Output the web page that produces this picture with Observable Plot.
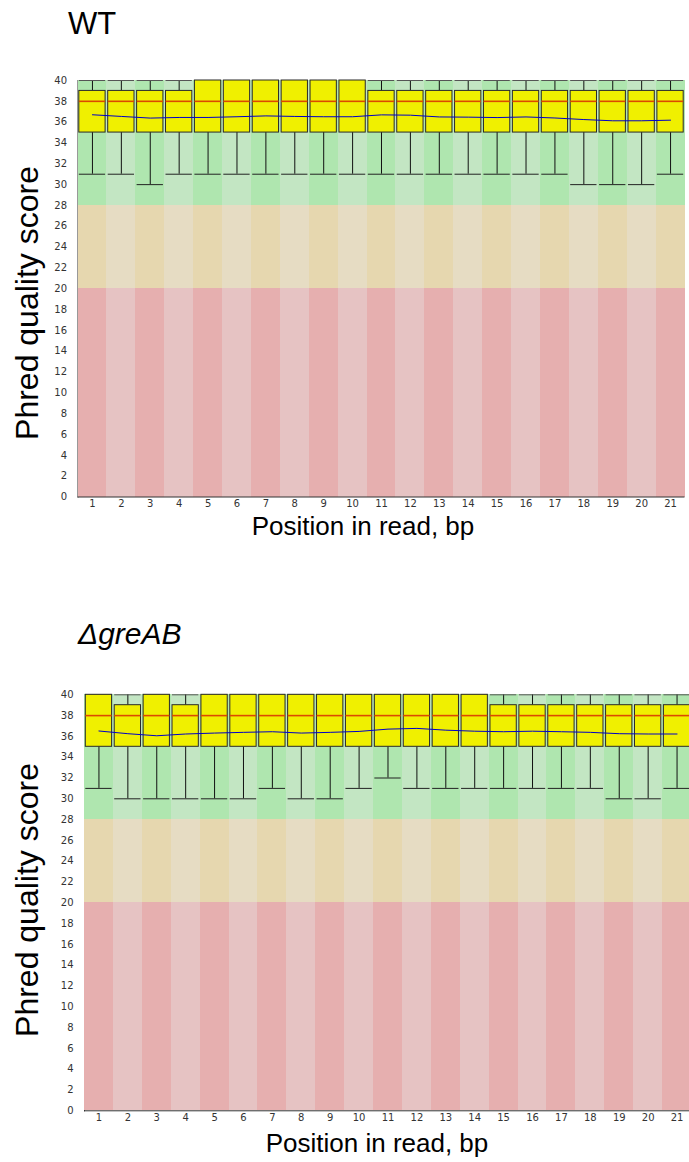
<!DOCTYPE html>
<html><head><meta charset="utf-8">
<script src="https://cdn.jsdelivr.net/npm/d3@7"></script>
<script src="https://cdn.jsdelivr.net/npm/@observablehq/plot@0.6"></script>
<style>
html,body{margin:0;padding:0;background:#fff;overflow:hidden;}
#page{position:relative;width:689px;height:1162px;overflow:hidden;font-family:"Liberation Sans",Arial,Helvetica,sans-serif;color:#000;}
.abs{position:absolute;line-height:1;white-space:nowrap;}
.ylab{font-size:32px;transform:translate(-50%,-50%) rotate(-90deg);}
.xlab{font-size:26px;transform:translateX(-50%);}
.svgwrap{position:absolute;left:0;}
</style></head><body><div id="page"></div>
<script>
// ---- data ----
const positions = [1,2,3,4,5,6,7,8,9,10,11,12,13,14,15,16,17,18,19,20,21];
const yTicks = [0,2,4,6,8,10,12,14,16,18,20,22,24,26,28,30,32,34,36,38,40];

// quality zones (low, high) and colours for odd / even columns
const zoneLow  = [28, 20, 0];
const zoneHigh = [40, 28, 20];
const zoneDark  = ["rgb(175,230,175)", "rgb(230,215,175)", "rgb(230,175,175)"];
const zoneLight = ["rgb(195,230,195)", "rgb(230,220,195)", "rgb(230,195,195)"];

// WT
const wtUpper  = [40,40,40,40,40,40,40,40,40,40,40,40,40,40,40,40,40,40,40,40,40];
const wtQ3     = [39,39,39,39,40,40,40,40,40,40,39,39,39,39,39,39,39,39,39,39,39];
const wtMedian = [38,38,38,38,38,38,38,38,38,38,38,38,38,38,38,38,38,38,38,38,38];
const wtQ1     = [35,35,35,35,35,35,35,35,35,35,35,35,35,35,35,35,35,35,35,35,35];
const wtLower  = [31,31,30,31,31,31,31,31,31,31,31,31,31,31,31,31,31,30,30,30,31];
const wtMean   = [36.71,36.55,36.39,36.45,36.45,36.52,36.6,36.55,36.52,36.52,36.7,36.67,36.5,36.48,36.44,36.5,36.4,36.25,36.13,36.13,36.19];

// ΔgreAB
const agUpper  = [40,40,40,40,40,40,40,40,40,40,40,40,40,40,40,40,40,40,40,40,40];
const agQ3     = [40,39,40,39,40,40,40,40,40,40,40,40,40,40,39,39,39,39,39,39,39];
const agMedian = [38,38,38,38,38,38,38,38,38,38,38,38,38,38,38,38,38,38,38,38,38];
const agQ1     = [35,35,35,35,35,35,35,35,35,35,35,35,35,35,35,35,35,35,35,35,35];
const agLower  = [31,30,30,30,30,30,31,30,30,31,32,31,31,31,31,31,31,31,30,30,31];
const agMean   = [36.52,36.26,36.06,36.23,36.32,36.39,36.45,36.32,36.39,36.48,36.7,36.77,36.6,36.5,36.45,36.5,36.45,36.39,36.26,36.23,36.23];

// ---- drawing ----
function panel(s, dims) {
  const rows = positions.map((p, i) => ({
    pos: p, upper: s.upper[i], q3: s.q3[i], median: s.median[i],
    q1: s.q1[i], lower: s.lower[i], mean: s.mean[i]
  }));
  const bg = positions.flatMap((p, i) => zoneLow.map((lo, j) => ({
    pos: p, lo, hi: zoneHigh[j], fill: (i % 2 === 0 ? zoneDark : zoneLight)[j]
  })));
  const ins = {insetLeft: 1.3, insetRight: 1.3};
  return Plot.plot({
    width: dims.width, height: dims.height,
    marginTop: dims.top, marginBottom: dims.bottom,
    marginLeft: dims.left, marginRight: dims.right,
    x: {type: "band", domain: positions, padding: 0, round: false, label: null, tickSize: 0, tickPadding: 3},
    y: {domain: [0, 40], ticks: yTicks, label: null, tickSize: 0, tickPadding: 11, line: true},
    color: {type: "identity"},
    style: {fontFamily: "'DejaVu Sans', sans-serif", fontSize: "10px", color: "#333",
            background: "transparent", maxWidth: "none", overflow: "visible"},
    marks: [
      Plot.barY(bg, {x: "pos", y1: "lo", y2: "hi", fill: "fill", shapeRendering: "crispEdges"}),
      Plot.ruleX(rows, {x: "pos", y1: "q1", y2: "lower", stroke: "#111"}),
      Plot.ruleX(rows, {x: "pos", y1: "q3", y2: "upper", stroke: "#111"}),
      Plot.tickY(rows, {x: "pos", y: "lower", stroke: "#222", ...ins}),
      Plot.tickY(rows, {x: "pos", y: "upper", stroke: "#555", ...ins}),
      Plot.barY(rows, {x: "pos", y1: "q1", y2: "q3", fill: "rgb(240,240,0)", stroke: "#2a2a2a", ...ins}),
      Plot.tickY(rows, {x: "pos", y: "median", stroke: "#dc4a00", strokeWidth: 1.6, ...ins}),
      Plot.line(rows, {x: "pos", y: "mean", stroke: "rgb(0,0,200)", strokeWidth: 1}),
      Plot.ruleY([0], {stroke: "#333"})
    ]
  });
}

const page = document.getElementById("page");
function addSvg(svg, top) {
  const w = document.createElement("div");
  w.className = "svgwrap";
  w.style.top = top + "px";
  w.appendChild(svg);
  page.appendChild(w);
}
function addText(txt, cls, left, top, extra) {
  const d = document.createElement("div");
  d.className = "abs " + cls;
  d.textContent = txt;
  d.style.left = left + "px";
  d.style.top = top + "px";
  if (extra) Object.assign(d.style, extra);
  page.appendChild(d);
}

addSvg(panel({upper: wtUpper, q3: wtQ3, median: wtMedian, q1: wtQ1, lower: wtLower, mean: wtMean},
  {width: 689, height: 560, top: 80, bottom: 63.5, left: 77.5, right: 4.5}), 0);
addSvg(panel({upper: agUpper, q3: agQ3, median: agMedian, q1: agQ1, lower: agLower, mean: agMean},
  {width: 691, height: 560, top: 94.3, bottom: 49.7, left: 84, right: 0}), 600);

addText("WT", "", 68, 8, {fontSize: "31px"});
addText("\u0394greAB", "", 78, 619, {fontSize: "30px", fontStyle: "italic"});
addText("Phred quality score", "ylab", 27, 303);
addText("Phred quality score", "ylab", 27, 900);
addText("Position in read, bp", "xlab", 363, 513);
addText("Position in read, bp", "xlab", 377, 1130);
</script>
</body></html>
